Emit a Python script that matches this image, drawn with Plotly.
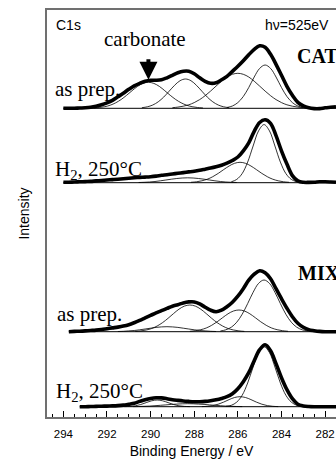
import plotly.graph_objects as go
import numpy as np

# ---------------- data ----------------
BE = [294.0, 293.75, 293.5, 293.25, 293.0, 292.75, 292.5, 292.25, 292.0, 291.75,
      291.5, 291.25, 291.0, 290.75, 290.5, 290.25, 290.0, 289.75, 289.5, 289.25,
      289.0, 288.75, 288.5, 288.25, 288.0, 287.75, 287.5, 287.25, 287.0, 286.75,
      286.5, 286.25, 286.0, 285.75, 285.5, 285.25, 285.0, 284.75, 284.5, 284.25,
      284.0, 283.75, 283.5, 283.25, 283.0, 282.75, 282.5, 282.25, 282.0, 281.75, 281.5]

# measured spectra (intensity above each spectrum's baseline)
CAT_PREP = [0, 0, 0, 0.3, 0.5, 1, 2, 3.5, 5.5, 8,
            11.5, 15, 19, 22.5, 25, 27, 28, 28, 28.5, 30.5,
            33, 35.5, 37, 37, 34.5, 30.5, 27, 25, 25.5, 28.5,
            32, 37, 42, 47.5, 53.5, 59, 62.5, 61, 54, 44,
            33, 22, 13, 6, 2.5, 0.5, -0.3, -0.3, 0.5, 1, 1.5]
CAT_H2 = [0.4, 0.4, 0.7, 0.9, 1.1, 1.3, 1.8, 2.2, 2.7, 3.1,
          3.5, 4.0, 4.4, 4.9, 5.3, 5.6, 6.0, 6.6, 7.4, 8.0,
          8.7, 9.4, 10.1, 10.8, 11.5, 12.4, 13.5, 14.6, 15.9, 17.5,
          19.5, 22.2, 25.7, 31.9, 39.9, 51.4, 60.2, 62.9, 59.4, 47.0,
          31.9, 18.6, 7.1, 1.8, 0.4, 0.3, 0.4, 0.9, 0.9, 0.7, 0.4]
MIX_PREP = [None, 0, 0.3, 0.5, 0.8, 1.2, 1.6, 2.2, 3, 3.8,
            4.6, 5.6, 7, 9, 11.3, 13.8, 16.3, 18.8, 21, 23.3,
            25.5, 27, 28.8, 29.8, 29.8, 27.8, 24.5, 21.5, 20, 21.5,
            25, 29.5, 35.5, 43, 51.5, 57.5, 61, 59, 53, 43,
            33, 23.5, 15, 8.5, 4.5, 2, 1, 0.3, 0, 0, 0]
MIX_H2 = [None, None, None, 0, 0, 0.2, 0.3, 0.5, 0.6, 0.8,
          1.1, 1.6, 2.5, 3.5, 5.3, 7, 8.3, 9, 8.8, 8,
          7, 6.3, 5.7, 5.3, 5, 5, 5.3, 6, 7, 8.3,
          10, 13, 18, 25, 34, 46, 57, 62, 56, 43,
          29, 17, 8, 2.5, 0.8, 0.2, 0, 0, 0, 0, 0]

# fitted components
CAT_PREP_C1_X = [292.6, 292.35, 292.1, 291.85, 291.6, 291.35, 291.1, 290.85, 290.6, 290.35, 290.1,
                 289.85, 289.6, 289.35, 289.1, 288.85, 288.6, 288.35, 288.1, 287.85, 287.6]
CAT_PREP_C1_Y = [0.3, 0.8, 1.6, 3.1, 5.5, 8.8, 13.0, 17.6, 21.9, 24.9, 26,
                 24.9, 21.9, 17.6, 13.0, 8.8, 5.5, 3.1, 1.6, 0.8, 0.3]
CAT_PREP_C2_X = [290.4, 290.15, 289.9, 289.65, 289.4, 289.15, 288.9, 288.65, 288.4,
                 288.15, 287.9, 287.65, 287.4, 287.15, 286.9, 286.65, 286.4]
CAT_PREP_C2_Y = [0.6, 1.5, 3.3, 6.5, 11.2, 17.1, 23.0, 27.6, 29.3,
                 27.6, 23.0, 17.1, 11.2, 6.5, 3.3, 1.5, 0.6]
CAT_PREP_C3_X = [289.0, 288.75, 288.5, 288.25, 288.0, 287.75, 287.5, 287.25, 287.0, 286.75, 286.5, 286.25, 286.0,
                 285.75, 285.5, 285.25, 285.0, 284.75, 284.5, 284.25, 284.0, 283.75, 283.5, 283.25, 283.0]
CAT_PREP_C3_Y = [0.6, 1.2, 2.1, 3.5, 5.7, 8.7, 12.6, 17.2, 22.2, 27.1, 31.3, 34.0, 35,
                 34.0, 31.3, 27.1, 22.2, 17.2, 12.6, 8.7, 5.7, 3.5, 2.1, 1.2, 0.6]
CAT_PREP_C4_X = [286.5, 286.25, 286.0, 285.75, 285.5, 285.25, 285.0, 284.75,
                 284.5, 284.25, 284.0, 283.75, 283.5, 283.25, 283.0]
CAT_PREP_C4_Y = [0.8, 2.3, 5.7, 11.8, 20.8, 31.3, 39.9, 43.3,
                 39.9, 31.3, 20.8, 11.8, 5.7, 2.3, 0.8]

CAT_H2_C1_X = [286.3, 286.05, 285.8, 285.55, 285.3, 285.05, 284.8, 284.55, 284.3, 284.05, 283.8, 283.55, 283.3]
CAT_H2_C1_Y = [0.9, 3.3, 9.2, 20.6, 36.7, 51.8, 58.1, 51.8, 36.7, 20.6, 9.2, 3.3, 0.9]
CAT_H2_C2_X = [288.15, 287.9, 287.65, 287.4, 287.15, 286.9, 286.65, 286.4, 286.15, 285.9,
               285.65, 285.4, 285.15, 284.9, 284.65, 284.4, 284.15, 283.9, 283.65]
CAT_H2_C2_Y = [0.4, 0.9, 1.9, 3.5, 6.0, 9.3, 13.1, 16.7, 19.4, 20.4,
               19.4, 16.7, 13.1, 9.3, 6.0, 3.5, 1.9, 0.9, 0.4]
CAT_H2_C3_X = [290.55, 290.3, 290.05, 289.8, 289.55, 289.3, 289.05, 288.8, 288.55, 288.3,
               288.05, 287.8, 287.55, 287.3, 287.05, 286.8, 286.55, 286.3, 286.05]
CAT_H2_C3_Y = [0.2, 0.4, 0.7, 1.2, 1.9, 2.7, 3.5, 4.2, 4.7, 4.9,
               4.7, 4.2, 3.5, 2.7, 1.9, 1.2, 0.7, 0.4, 0.2]

MIX_PREP_C1_X = [291.5, 291.25, 291.0, 290.75, 290.5, 290.25, 290.0, 289.75, 289.5, 289.25,
                 289.0, 288.75, 288.5, 288.25, 288.0, 287.75, 287.5, 287.25, 287.0]
MIX_PREP_C1_Y = [0.2, 0.4, 0.8, 1.2, 1.9, 2.7, 3.5, 4.3, 4.8, 5,
                 4.8, 4.3, 3.5, 2.7, 1.9, 1.2, 0.8, 0.4, 0.2]
MIX_PREP_C2_X = [290.7, 290.45, 290.2, 289.95, 289.7, 289.45, 289.2, 288.95, 288.7, 288.45, 288.2,
                 287.95, 287.7, 287.45, 287.2, 286.95, 286.7, 286.45, 286.2, 285.95, 285.7]
MIX_PREP_C2_Y = [0.3, 0.8, 1.7, 3.2, 5.7, 9.1, 13.4, 18.1, 22.5, 25.6, 26.7,
                 25.6, 22.5, 18.1, 13.4, 9.1, 5.7, 3.2, 1.7, 0.8, 0.3]
MIX_PREP_C3_X = [288.2, 287.95, 287.7, 287.45, 287.2, 286.95, 286.7, 286.45, 286.2, 285.95,
                 285.7, 285.45, 285.2, 284.95, 284.7, 284.45, 284.2, 283.95, 283.7]
MIX_PREP_C3_Y = [0.4, 1.0, 2.0, 3.7, 6.4, 9.9, 14.0, 17.9, 20.7, 21.7,
                 20.7, 17.9, 14.0, 9.9, 6.4, 3.7, 2.0, 1.0, 0.4]
MIX_PREP_C4_X = [286.8, 286.55, 286.3, 286.05, 285.8, 285.55, 285.3, 285.05, 284.8,
                 284.55, 284.3, 284.05, 283.8, 283.55, 283.3, 283.05, 282.8]
MIX_PREP_C4_Y = [0.7, 1.9, 4.5, 9.5, 17.5, 28.1, 39.4, 48.3, 51.7,
                 48.3, 39.4, 28.1, 17.5, 9.5, 4.5, 1.9, 0.7]

MIX_H2_C1_X = [291.2, 290.95, 290.7, 290.45, 290.2, 289.95, 289.7, 289.45, 289.2, 288.95, 288.7, 288.45, 288.2]
MIX_H2_C1_Y = [0.1, 0.3, 0.9, 2.2, 4.1, 5.9, 6.7, 5.9, 4.1, 2.2, 0.9, 0.3, 0.1]
MIX_H2_C2_X = [290.8, 290.55, 290.3, 290.05, 289.8, 289.55, 289.3, 289.05, 288.8, 288.55, 288.3,
               288.05, 287.8, 287.55, 287.3, 287.05, 286.8, 286.55, 286.3, 286.05, 285.8]
MIX_H2_C2_Y = [0.1, 0.2, 0.4, 0.6, 1.0, 1.4, 1.8, 2.3, 2.6, 2.9, 3,
               2.9, 2.6, 2.3, 1.8, 1.4, 1.0, 0.6, 0.4, 0.2, 0.1]
MIX_H2_C3_X = [287.65, 287.4, 287.15, 286.9, 286.65, 286.4, 286.15, 285.9,
               285.65, 285.4, 285.15, 284.9, 284.65, 284.4, 284.15]
MIX_H2_C3_Y = [0.1, 0.4, 1.1, 2.5, 4.6, 7.1, 9.2, 10,
               9.2, 7.1, 4.6, 2.5, 1.1, 0.4, 0.1]
MIX_H2_C4_X = [286.55, 286.3, 286.05, 285.8, 285.55, 285.3, 285.05, 284.8,
               284.55, 284.3, 284.05, 283.8, 283.55, 283.3, 283.05]
MIX_H2_C4_Y = [0.4, 1.4, 4.6, 11.5, 23.7, 39.7, 54.1, 60,
               54.1, 39.7, 23.7, 11.5, 4.6, 1.4, 0.4]

X_TICKS = [294, 292, 290, 288, 286, 284, 282]
X_TICK_LABELS = ["294", "292", "290", "288", "286", "284", "282"]

# vertical stacking offsets of the four spectra
OFFSETS = [308.7, 234.3, 85.3, 10.3]

SPECTRA = [
    (CAT_PREP, [(CAT_PREP_C1_X, CAT_PREP_C1_Y), (CAT_PREP_C2_X, CAT_PREP_C2_Y),
                (CAT_PREP_C3_X, CAT_PREP_C3_Y), (CAT_PREP_C4_X, CAT_PREP_C4_Y)]),
    (CAT_H2, [(CAT_H2_C1_X, CAT_H2_C1_Y), (CAT_H2_C2_X, CAT_H2_C2_Y), (CAT_H2_C3_X, CAT_H2_C3_Y)]),
    (MIX_PREP, [(MIX_PREP_C1_X, MIX_PREP_C1_Y), (MIX_PREP_C2_X, MIX_PREP_C2_Y),
                (MIX_PREP_C3_X, MIX_PREP_C3_Y), (MIX_PREP_C4_X, MIX_PREP_C4_Y)]),
    (MIX_H2, [(MIX_H2_C1_X, MIX_H2_C1_Y), (MIX_H2_C2_X, MIX_H2_C2_Y),
              (MIX_H2_C3_X, MIX_H2_C3_Y), (MIX_H2_C4_X, MIX_H2_C4_Y)]),
]


def shift(vals, off):
    return [None if v is None else v + off for v in vals]


fig = go.Figure()
for (data, comps), off in zip(SPECTRA, OFFSETS):
    xs = [x for x, v in zip(BE, data) if v is not None]
    # baseline
    fig.add_trace(go.Scatter(x=[xs[0], xs[-1]], y=[off, off], mode="lines",
                             line=dict(color="black", width=1), hoverinfo="skip"))
    # measured data
    fig.add_trace(go.Scatter(x=BE, y=shift(data, off), mode="lines",
                             line=dict(color="black", width=3.6, shape="spline"),
                             connectgaps=False, hoverinfo="skip"))
    # components
    for cx, cy in comps:
        fig.add_trace(go.Scatter(x=cx, y=shift(cy, off), mode="lines",
                                 line=dict(color="black", width=0.8, shape="spline"),
                                 hoverinfo="skip"))

serif = "Liberation Serif, Times New Roman, serif"
sans = "Liberation Sans, Arial, sans-serif"

ann = []


def label(text, x, y, size=21, family=serif, xanchor="left"):
    ann.append(dict(text=text, x=x, y=y, xref="x", yref="y", xanchor=xanchor,
                    yanchor="middle", showarrow=False,
                    font=dict(family=family, size=size, color="black")))


label("C1s", 294.45, 392.5, size=14, family=sans)
label("hν=525eV", 284.85, 392.5, size=14, family=sans)
label("carbonate", 290.25, 378, xanchor="center")
label("as prep.", 294.47, 328.5)
label("H<sub>2</sub>, 250°C", 294.47, 247)
label("<b>CAT</b>", 283.37, 361, size=20)
label("<b>MIX</b>", 283.33, 144, size=20)
label("as prep.", 294.38, 103)
label("H<sub>2</sub>, 250°C", 294.43, 25)

# arrow pointing at the carbonate component maximum
arrow_x = CAT_PREP_C1_X[CAT_PREP_C1_Y.index(max(CAT_PREP_C1_Y))]
arrow_y = float(np.interp(arrow_x, BE[::-1], CAT_PREP[::-1])) + OFFSETS[0]
ann.append(dict(text="", x=arrow_x, y=arrow_y, xref="x", yref="y", showarrow=True,
                ax=0, ay=-23, arrowhead=2, arrowsize=0.9, arrowwidth=4,
                arrowcolor="black", standoff=1))

axis_col = "#707070"
fig.update_layout(
    width=336, height=459,
    margin=dict(l=47, r=0, t=10, b=42),
    paper_bgcolor="white", plot_bgcolor="white",
    showlegend=False,
    annotations=ann,
    xaxis=dict(range=[294.75, 281.5], tickmode="array", tickvals=X_TICKS,
               ticktext=X_TICK_LABELS, ticks="inside", ticklen=6, tickwidth=1,
               tickcolor="black", showline=True, linecolor=axis_col, linewidth=1.5,
               mirror=True, showgrid=False, zeroline=False,
               tickfont=dict(family=sans, size=11.5, color="black"),
               ticklabelstandoff=5,
               minor=dict(tickmode="linear", tick0=282, dtick=0.5, ticks="inside",
                          ticklen=3, tickcolor="black", showgrid=False),
               title=dict(text="Binding Energy / eV", standoff=8,
                          font=dict(family=sans, size=14, color="black"))),
    yaxis=dict(range=[0, 407], showline=True, linecolor=axis_col, linewidth=1.5,
               mirror=False, showgrid=False, zeroline=False, showticklabels=False,
               ticks="",
               title=dict(text="Intensity", standoff=12,
                          font=dict(family=sans, size=14, color="black"))),
)

fig.write_html("out.html",
               config=dict(displayModeBar=False),
               post_script="document.body.style.margin='0';"
                           "document.body.style.overflow='hidden';")
